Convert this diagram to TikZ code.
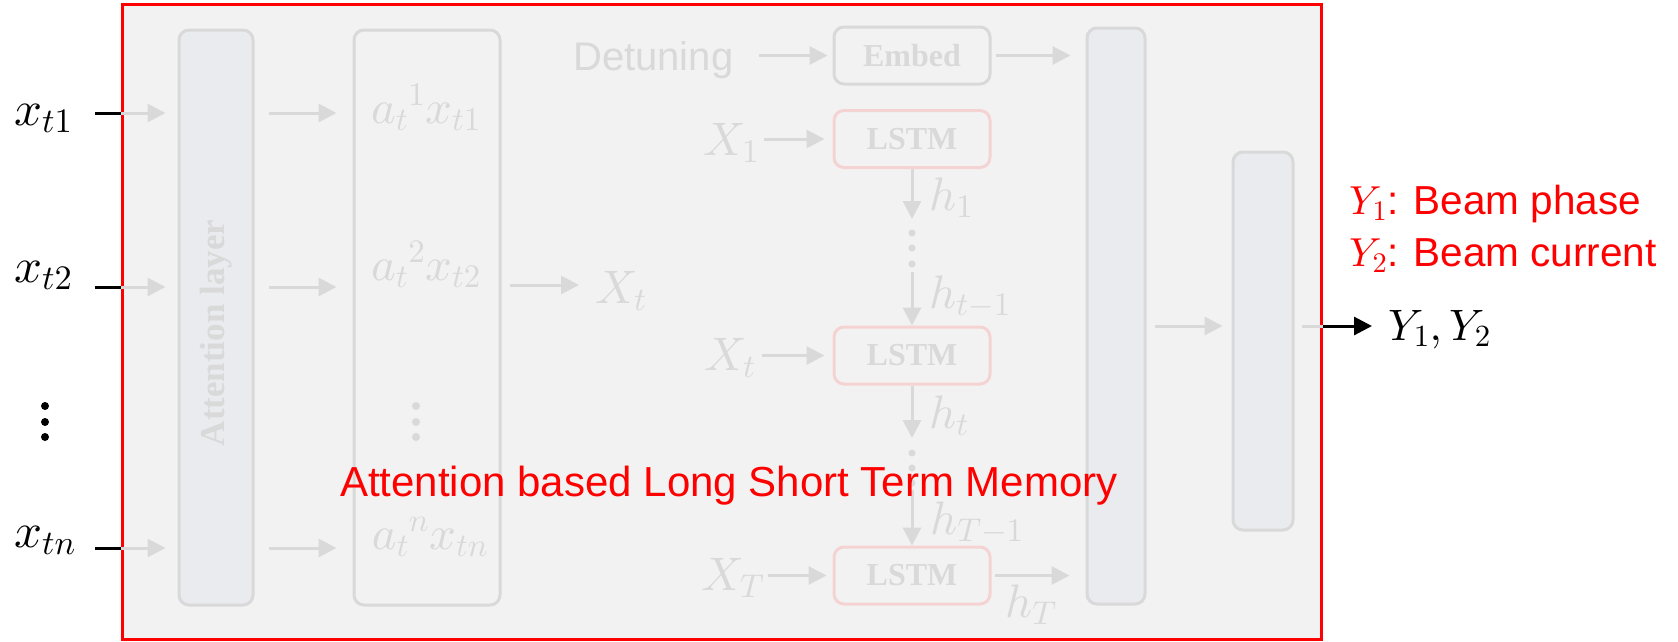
\documentclass[tikz,border=0pt]{standalone}
\usepackage[no-math]{fontspec}
\setmainfont{Liberation Sans}
\newfontfamily\tnr{Liberation Serif}
\DeclareFontShape{OML}{cmm}{m}{it}{<->cmmi10}{}
\DeclareFontShape{OT1}{cmr}{m}{n}{<->cmr10}{}
\DeclareFontShape{OMS}{cmsy}{m}{n}{<->cmsy10}{}
\usetikzlibrary{arrows.meta}
\definecolor{lg}{HTML}{D9D9D9}
\definecolor{tg}{HTML}{D9D9D9}
\definecolor{bf}{HTML}{EAEBEE}
\definecolor{pf}{HTML}{F2F2F2}
\definecolor{pk}{HTML}{F5D3D3}
\definecolor{rd}{HTML}{FF0000}
\tikzset{
  lbl/.style={inner sep=0pt, anchor=base west},
  glbl/.style={lbl, text=tg},
  mth/.style={font=\fontsize{47}{55}\selectfont},
  gbox/.style={draw=lg, line width=3pt, rounded corners=10pt, fill=bf, inner sep=0pt},
  obox/.style={draw=lg, line width=3pt, rounded corners=10pt, inner sep=0pt},
  lbox/.style={draw=pk, line width=3pt, rounded corners=10pt, inner sep=0pt, text=tg,
               minimum width=156pt, minimum height=57pt, font=\tnr\bfseries\fontsize{32}{38}\selectfont},
  garr/.style={draw=lg, line width=3pt, -{Triangle[length=18pt,width=18pt]}},
  barr/.style={draw=black, line width=3pt, -{Triangle[length=18pt,width=18pt]}},
  gdot/.style={fill=lg, draw=none},
}
\begin{document}
\begin{tikzpicture}[x=1pt,y=-1pt]
\useasboundingbox (0,0) rectangle (1678,641);
\fill[white] (0,0) rectangle (1678,641);
% panel
\node[draw=rd, line width=3pt, fill=pf, minimum width=1199pt, minimum height=635pt, anchor=north west, inner sep=0pt] (panel) at (121,3) {};
% row coordinates
\coordinate (r1) at (0,113);
\coordinate (r2) at (0,287);
\coordinate (rn) at (0,548);
\coordinate (rx) at (0,285);
\coordinate (ro) at (0,326);
% boxes
\node[gbox, minimum width=74pt, minimum height=575pt] (att) at (216,317.5) {};
\node[text=tg, rotate=90, inner sep=0pt, font=\tnr\bfseries\fontsize{35}{40}\selectfont] (attl) at (216,333) {Attention layer};
\node[obox, minimum width=146pt, minimum height=575pt] (abox) at (427,317.5) {};
\node[gbox, minimum width=58pt, minimum height=576pt] (b1) at (1116,316) {};
\node[gbox, minimum width=60pt, minimum height=378pt] (b2) at (1263,341) {};
\node[obox, text=tg, minimum width=156pt, minimum height=57pt, font=\tnr\bfseries\fontsize{32}{38}\selectfont] (emb) at (912,55.5) {Embed};
\node[lbox] (l1) at (912,139) {LSTM};
\node[lbox] (lt) at (912,355.5) {LSTM};
\node[lbox] (lT) at (912,575.5) {LSTM};
% left inputs
\node[lbl, font=\fontsize{49}{57}\selectfont] (x1) at (14,125) {$x_{t1}$};
\node[lbl, font=\fontsize{49}{57}\selectfont] (x2) at (14,282) {$x_{t2}$};
\node[lbl, font=\fontsize{49}{57}\selectfont] (xn) at (14,547) {$x_{tn}$};
\fill (45,406) circle (4);
\fill (45,422) circle (4);
\fill (45,437) circle (4);
\coordinate (s1) at (95,113);
\coordinate (s2) at (95,287);
\coordinate (sn) at (95,548);
\foreach \s/\r in {s1/r1,s2/r2,sn/rn}{
  \draw[black, line width=3pt] (\s) -- (panel.west |- \r);
  \draw[garr, shorten >=12pt] (panel.west |- \r) -- (att.west |- \r);
  \draw[garr, shorten <=14pt, shorten >=16pt] (att.east |- \r) -- (abox.west |- \r);
}
% a-box contents
\node[glbl, mth, anchor=base] (a1) at (426,123) {${a_t}^{1}x_{t1}$};
\node[glbl, mth, anchor=base] (a2) at (426,280) {${a_t}^{2}x_{t2}$};
\node[glbl, mth, anchor=base] (an) at (430,549) {${a_t}^{n}x_{tn}$};
\fill[gdot] (416,406) circle (4);
\fill[gdot] (416,422) circle (4);
\fill[gdot] (416,437) circle (4);
% X_t after a-box
\node[glbl, mth] (Xt0) at (595,303) {$X_t$};
\draw[garr, shorten <=8pt, shorten >=16pt] (abox.east |- rx) -- (Xt0.west |- rx);
% detuning
\node[glbl, font=\fontsize{40}{48}\selectfont] (det) at (573,70) {Detuning};
\draw[garr, shorten <=25pt, shorten >=5pt] (det.east |- emb.west) -- (emb.west);
\draw[garr, shorten <=4pt, shorten >=15pt] (emb.east) -- (b1.west |- emb.east);
% LSTM chain inputs
\node[glbl, mth] (X1) at (703,155) {$X_1$};
\node[glbl, mth] (Xt) at (704,370) {$X_t$};
\node[glbl, mth] (XT) at (701,590) {$X_T$};
\draw[garr, shorten <=5pt, shorten >=8pt] (X1.east |- l1.west) -- (l1.west);
\draw[garr, shorten <=6pt, shorten >=8pt] (Xt.east |- lt.west) -- (lt.west);
\draw[garr, shorten <=3pt, shorten >=6pt] (XT.east |- lT.west) -- (lT.west);
% vertical chain
\coordinate (d1) at (912,219);
\coordinate (d2) at (912,272);
\coordinate (d3) at (912,438);
\coordinate (d4) at (912,490);
\draw[garr] (l1.south) -- (d1);
\draw[garr] (d2) -- (lt.north);
\draw[garr] (lt.south) -- (d3);
\draw[garr] (d4) -- (lT.north);
\fill[gdot] (912,233) circle (3.5);
\fill[gdot] (912,248) circle (3.5);
\fill[gdot] (912,264) circle (3.5);
\fill[gdot] (912,453) circle (3.5);
\fill[gdot] (912,468) circle (3.5);
\fill[gdot] (912,483) circle (3.5);
\node[glbl, mth] (h1) at (929,210) {$h_1$};
\node[glbl, mth] (htm) at (929,308) {$h_{t-1}$};
\node[glbl, mth] (ht) at (929,428) {$h_t$};
\node[glbl, mth] (hTm) at (930,534) {$h_{T-1}$};
\node[glbl, mth] (hT) at (1005,617) {$h_T$};
\draw[garr, shorten <=3pt, shorten >=16pt] (lT.east) -- (b1.west |- lT.east);
% right side
\draw[garr, shorten <=8pt, shorten >=9pt] (b1.east |- ro) -- (b2.west |- ro);
\draw[lg, line width=3pt, shorten <=7pt] (b2.east |- ro) -- (panel.east |- ro);
\node[lbl, font=\fontsize{44}{52}\selectfont] (Y12) at (1388,340) {$Y_1, Y_2$};
\draw[barr, shorten >=16pt] (panel.east |- ro) -- (Y12.west |- ro);
\node[lbl, text=rd, font=\fontsize{40.5}{48}\selectfont] (yl1) at (1349,214) {$Y_1$: Beam phase};
\node[lbl, text=rd, font=\fontsize{40.5}{48}\selectfont] (yl2) at (1349,266) {$Y_2$: Beam current};
% main red label
\node[lbl, text=rd, font=\fontsize{42}{50}\selectfont] (main) at (340,496) {Attention based Long Short Term Memory};
\end{tikzpicture}
\end{document}
